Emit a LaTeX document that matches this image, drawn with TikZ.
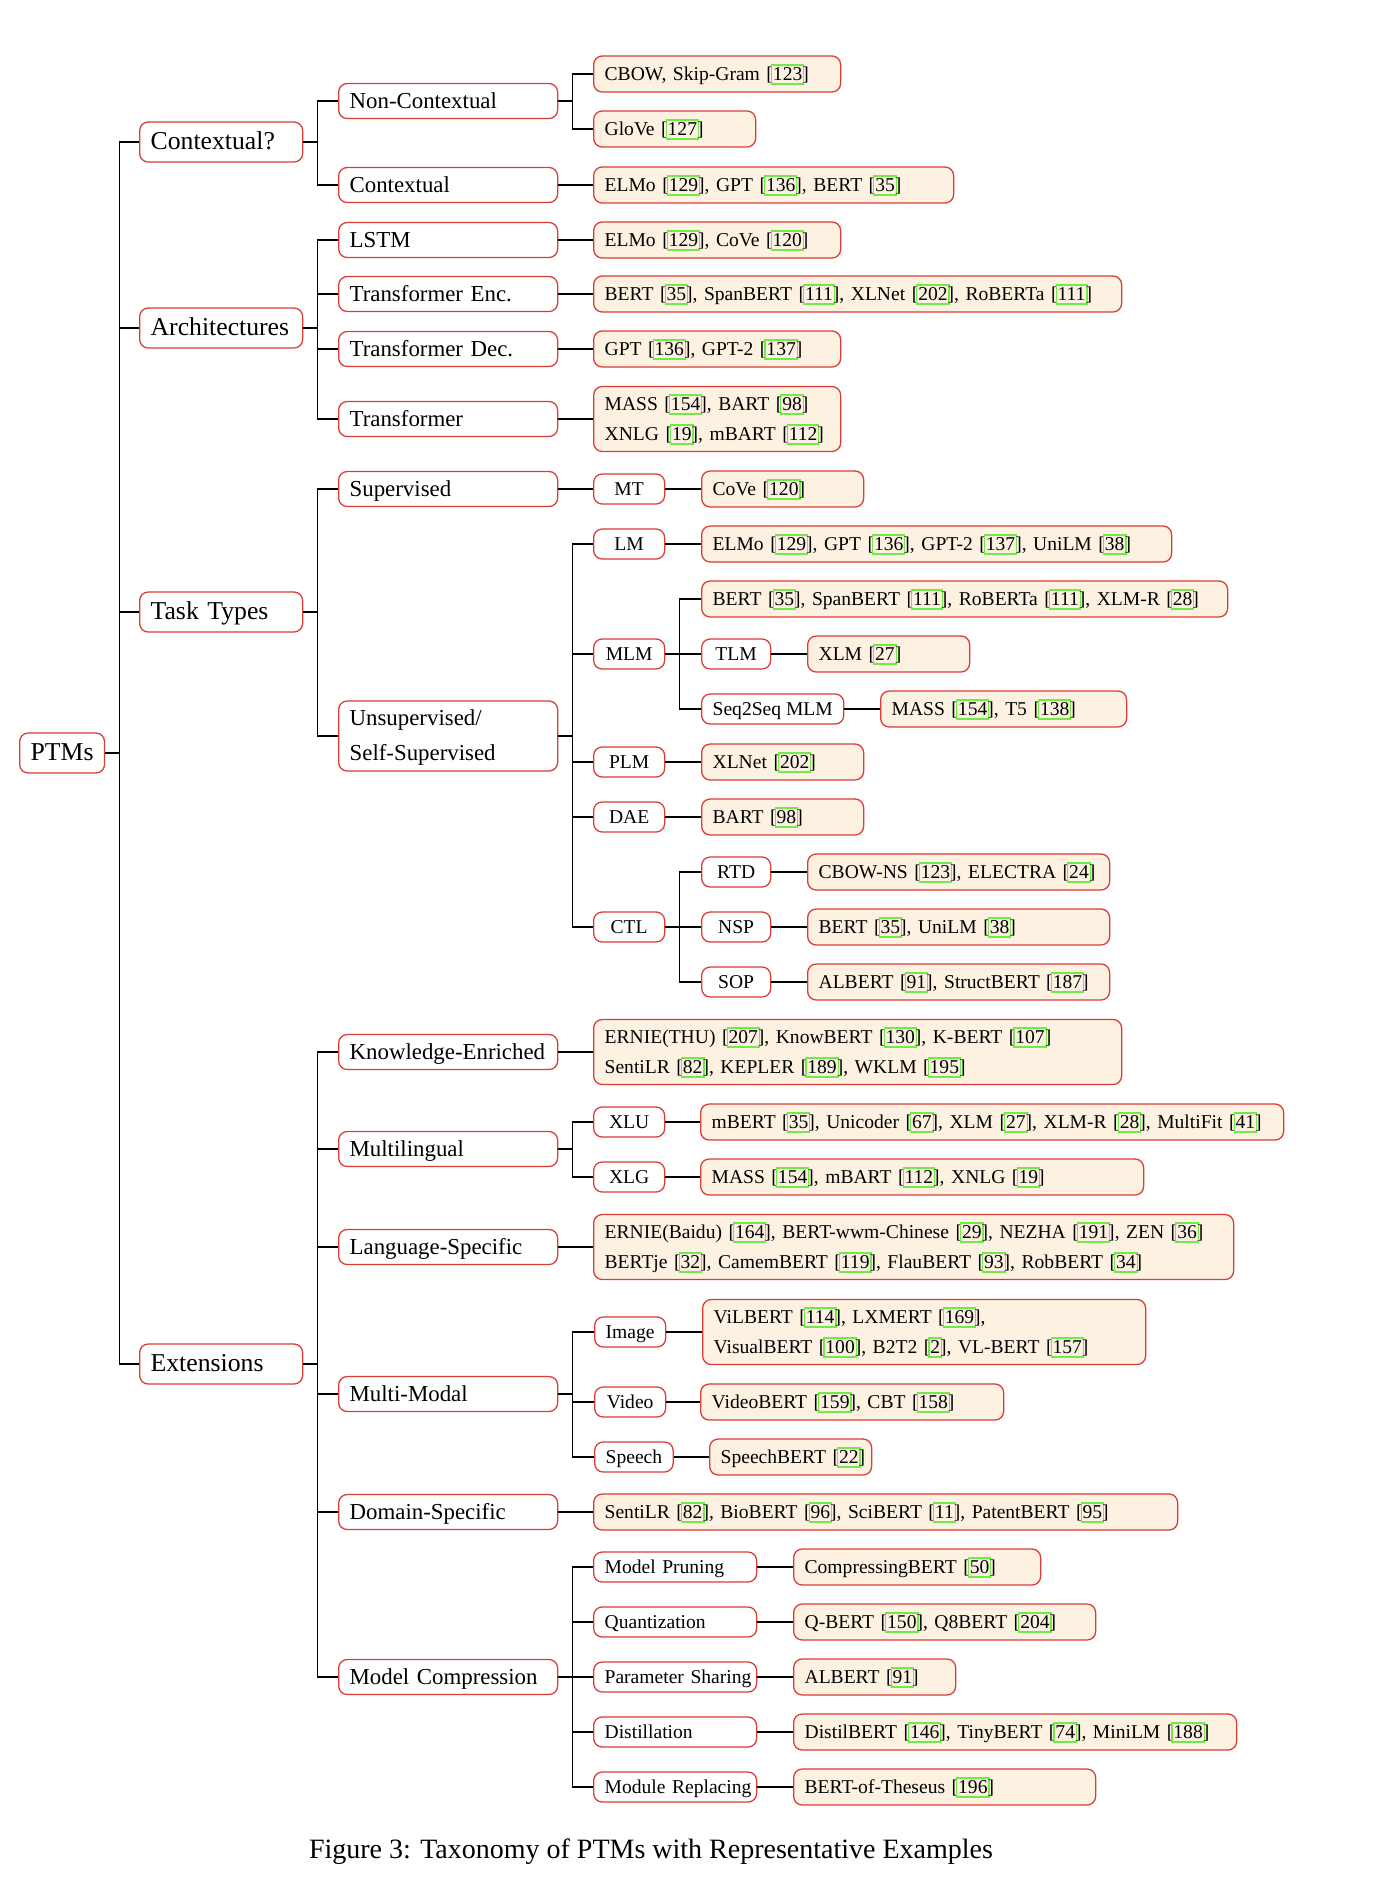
\documentclass[tikz,border=0pt]{standalone}
\usepackage{fontspec}
\setmainfont{Liberation Serif}
\definecolor{edgered}{RGB}{218,60,55}
\definecolor{leaffill}{RGB}{253,242,226}
\definecolor{citegreen}{RGB}{110,235,70}
\newcommand{\refno}[1]{[{\fboxsep=0.3pt\fboxrule=0.4pt\color{citegreen}\kern-0.7pt\fbox{\color{black}\vphantom{[}#1}\kern-0.7pt}]}
\tikzset{
  nodebox/.style={rectangle, rounded corners=3pt, draw=edgered, line width=0.45pt,
    inner xsep=3.85pt, inner ysep=0pt, anchor=west, align=left,
    execute at begin node=\strut, execute at end node=\strut},
  wd/.code={\pgfmathsetlengthmacro\boxtw{#1*0.35pt-7.7pt}%
    \edef\boxset{\noexpand\tikzset{text width=\boxtw}}\boxset},
  rootbox/.style={nodebox, font=\fontsize{9}{13.5}\selectfont, minimum height=40*0.35pt},
  groupbox/.style={rootbox, wd=163},
  subbox/.style={nodebox, font=\fontsize{8}{12.25}\selectfont, minimum height=35*0.35pt, wd=219},
  tagbox/.style={nodebox, font=\fontsize{6.85}{10.5}\selectfont, minimum height=30*0.35pt,
    minimum width=71*0.35pt, align=center},
  leafbox/.style={nodebox, fill=leaffill, font=\fontsize{6.85}{10.5}\selectfont,
    minimum height=36*0.35pt, wd=#1},
  branch/.style={line width=0.4pt}
}
\begin{document}
\begin{tikzpicture}[x=0.35pt,y=-0.35pt]
  \useasboundingbox (0,0) rectangle (1376,1884);
  \node[rootbox, minimum width=84*0.35pt, align=center] (ptms) at (19,753) {PTMs};
  \node[groupbox] (ctx) at (139,142) {Contextual?};
  \node[groupbox] (arch) at (139,328) {Architectures};
  \node[groupbox] (task) at (139,612) {Task Types};
  \node[groupbox] (ext) at (139,1364) {Extensions};

  \node[subbox] (noncx) at (338,101) {Non-Contextual};
  \node[subbox] (cx) at (338,185) {Contextual};
  \node[subbox] (lstm) at (338,240) {LSTM};
  \node[subbox] (tenc) at (338,294) {Transformer Enc.};
  \node[subbox] (tdec) at (338,349) {Transformer Dec.};
  \node[subbox] (trf) at (338,419) {Transformer};
  \node[subbox] (sup) at (338,489) {Supervised};
  \node[subbox, minimum height=70*0.35pt] (unsup) at (338,736) {Unsupervised/\\Self-Supervised};
  \node[subbox] (know) at (338,1052) {Knowledge-Enriched};
  \node[subbox] (multi) at (338,1149) {Multilingual};
  \node[subbox] (lang) at (338,1247) {Language-Specific};
  \node[subbox] (mm) at (338,1394) {Multi-Modal};
  \node[subbox] (dom) at (338,1512) {Domain-Specific};
  \node[subbox] (comp) at (338,1677) {Model Compression};

  \node[leafbox=247] (cbow) at (593,74) {CBOW, Skip-Gram \refno{123}};
  \node[leafbox=162] (glove) at (593,129) {GloVe \refno{127}};
  \node[leafbox=360] (cxex) at (593,185) {ELMo \refno{129}, GPT \refno{136}, BERT \refno{35}};
  \node[leafbox=247] (lstmex) at (593,240) {ELMo \refno{129}, CoVe \refno{120}};
  \node[leafbox=528] (tencex) at (593,294) {BERT \refno{35}, SpanBERT \refno{111}, XLNet \refno{202}, RoBERTa \refno{111}};
  \node[leafbox=247] (tdecex) at (593,349) {GPT \refno{136}, GPT-2 \refno{137}};
  \node[leafbox=247, minimum height=65*0.35pt] (trfex) at (593,419) {MASS \refno{154}, BART \refno{98}\\XNLG \refno{19}, mBART \refno{112}};

  \node[tagbox] (mt) at (593,489) {MT};
  \node[tagbox] (lm) at (593,544) {LM};
  \node[tagbox] (mlm) at (593,654) {MLM};
  \node[tagbox] (plm) at (593,762) {PLM};
  \node[tagbox] (dae) at (593,817) {DAE};
  \node[tagbox] (ctl) at (593,927) {CTL};
  \node[leafbox=162] (cove) at (701,489) {CoVe \refno{120}};
  \node[leafbox=470] (lmex) at (701,544) {ELMo \refno{129}, GPT \refno{136}, GPT-2 \refno{137}, UniLM \refno{38}};
  \node[leafbox=526] (mlmex) at (701,599) {BERT \refno{35}, SpanBERT \refno{111}, RoBERTa \refno{111}, XLM-R~\refno{28}};
  \node[tagbox, minimum width=69*0.35pt] (tlm) at (701,654) {TLM};
  \node[tagbox, minimum width=142*0.35pt] (s2s) at (701,709) {Seq2Seq MLM};
  \node[leafbox=162] (plmex) at (701,762) {XLNet \refno{202}};
  \node[leafbox=162] (daeex) at (701,817) {BART \refno{98}};
  \node[tagbox, minimum width=69*0.35pt] (rtd) at (701,872) {RTD};
  \node[tagbox, minimum width=69*0.35pt] (nsp) at (701,927) {NSP};
  \node[tagbox, minimum width=69*0.35pt] (sop) at (701,982) {SOP};
  \node[leafbox=162] (xlm) at (807,654) {XLM \refno{27}};
  \node[leafbox=246] (s2sex) at (880,709) {MASS \refno{154}, T5 \refno{138}};
  \node[leafbox=302] (rtdex) at (807,872) {CBOW-NS \refno{123}, ELECTRA~\refno{24}};
  \node[leafbox=302] (nspex) at (807,927) {BERT \refno{35}, UniLM \refno{38}};
  \node[leafbox=302] (sopex) at (807,982) {ALBERT \refno{91}, StructBERT~\refno{187}};

  \node[leafbox=528, minimum height=65*0.35pt] (knowex) at (593,1052) {ERNIE(THU) \refno{207}, KnowBERT \refno{130}, K-BERT \refno{107}\\SentiLR \refno{82}, KEPLER \refno{189}, WKLM \refno{195}};
  \node[tagbox] (xlu) at (593,1122) {XLU};
  \node[tagbox] (xlg) at (593,1177) {XLG};
  \node[leafbox=583] (xluex) at (700,1122) {mBERT \refno{35}, Unicoder \refno{67}, XLM \refno{27}, XLM-R \refno{28}, MultiFit~\refno{41}};
  \node[leafbox=443] (xlgex) at (700,1177) {MASS \refno{154}, mBART \refno{112}, XNLG \refno{19}};
  \node[leafbox=640, minimum height=65*0.35pt] (langex) at (593,1247) {ERNIE(Baidu) \refno{164}, BERT-wwm-Chinese \refno{29}, NEZHA \refno{191}, ZEN~\refno{36}\\BERTje \refno{32}, CamemBERT \refno{119}, FlauBERT \refno{93}, RobBERT \refno{34}};
  \node[tagbox] (img) at (594,1332) {Image};
  \node[tagbox] (vid) at (594,1402) {Video};
  \node[tagbox] (spch) at (594,1457) {Speech};
  \node[leafbox=443, minimum height=65*0.35pt] (imgex) at (702,1332) {ViLBERT \refno{114}, LXMERT \refno{169},\\VisualBERT \refno{100}, B2T2 \refno{2}, VL-BERT \refno{157}};
  \node[leafbox=303] (videx) at (700,1402) {VideoBERT \refno{159}, CBT \refno{158}};
  \node[leafbox=162] (spchex) at (709,1457) {SpeechBERT~\refno{22}};
  \node[leafbox=584] (domex) at (593,1512) {SentiLR \refno{82}, BioBERT \refno{96}, SciBERT \refno{11}, PatentBERT \refno{95}};

  \node[tagbox, wd=163, align=left] (prun) at (593,1567) {Model Pruning};
  \node[tagbox, wd=163, align=left] (quant) at (593,1622) {Quantization};
  \node[tagbox, wd=163, align=left] (share) at (593,1677) {Parameter~Sharing};
  \node[tagbox, wd=163, align=left] (distil) at (593,1732) {Distillation};
  \node[tagbox, wd=163, align=left] (modrep) at (593,1787) {Module~Replacing};
  \node[leafbox=247] (prunex) at (793,1567) {CompressingBERT \refno{50}};
  \node[leafbox=302] (quantex) at (793,1622) {Q-BERT \refno{150}, Q8BERT \refno{204}};
  \node[leafbox=162] (shareex) at (793,1677) {ALBERT \refno{91}};
  \node[leafbox=443] (distilex) at (793,1732) {DistilBERT \refno{146}, TinyBERT \refno{74}, MiniLM~\refno{188}};
  \node[leafbox=302] (modrepex) at (793,1787) {BERT-of-Theseus \refno{196}};

  \node[font=\fontsize{9.8}{12}\selectfont] (cap) at (651,1852) {Figure 3: Taxonomy of PTMs with Representative Examples};

  \foreach \p/\c in {ptms/ctx, ptms/arch, ptms/task, ptms/ext,
      ctx/noncx, ctx/cx, noncx/cbow, noncx/glove, cx/cxex,
      arch/lstm, arch/tenc, arch/tdec, arch/trf,
      lstm/lstmex, tenc/tencex, tdec/tdecex, trf/trfex,
      task/sup, task/unsup, sup/mt, mt/cove,
      unsup/lm, unsup/mlm, unsup/plm, unsup/dae, unsup/ctl,
      lm/lmex, mlm/mlmex, mlm/tlm, mlm/s2s, tlm/xlm, s2s/s2sex,
      plm/plmex, dae/daeex, ctl/rtd, ctl/nsp, ctl/sop,
      rtd/rtdex, nsp/nspex, sop/sopex}
    \draw[branch] (\p.east) -- ++(14,0) |- (\c.west);
  \foreach \p/\c in {ext/know, ext/multi, ext/lang, ext/mm, ext/dom, ext/comp,
      know/knowex, multi/xlu, multi/xlg, xlu/xluex, xlg/xlgex, lang/langex,
      mm/img, mm/vid, mm/spch, img/imgex, vid/videx, spch/spchex, dom/domex,
      comp/prun, comp/quant, comp/share, comp/distil, comp/modrep,
      prun/prunex, quant/quantex, share/shareex, distil/distilex, modrep/modrepex}
    \draw[branch] (\p.east) -- ++(14,0) |- (\c.west);
\end{tikzpicture}
\end{document}
